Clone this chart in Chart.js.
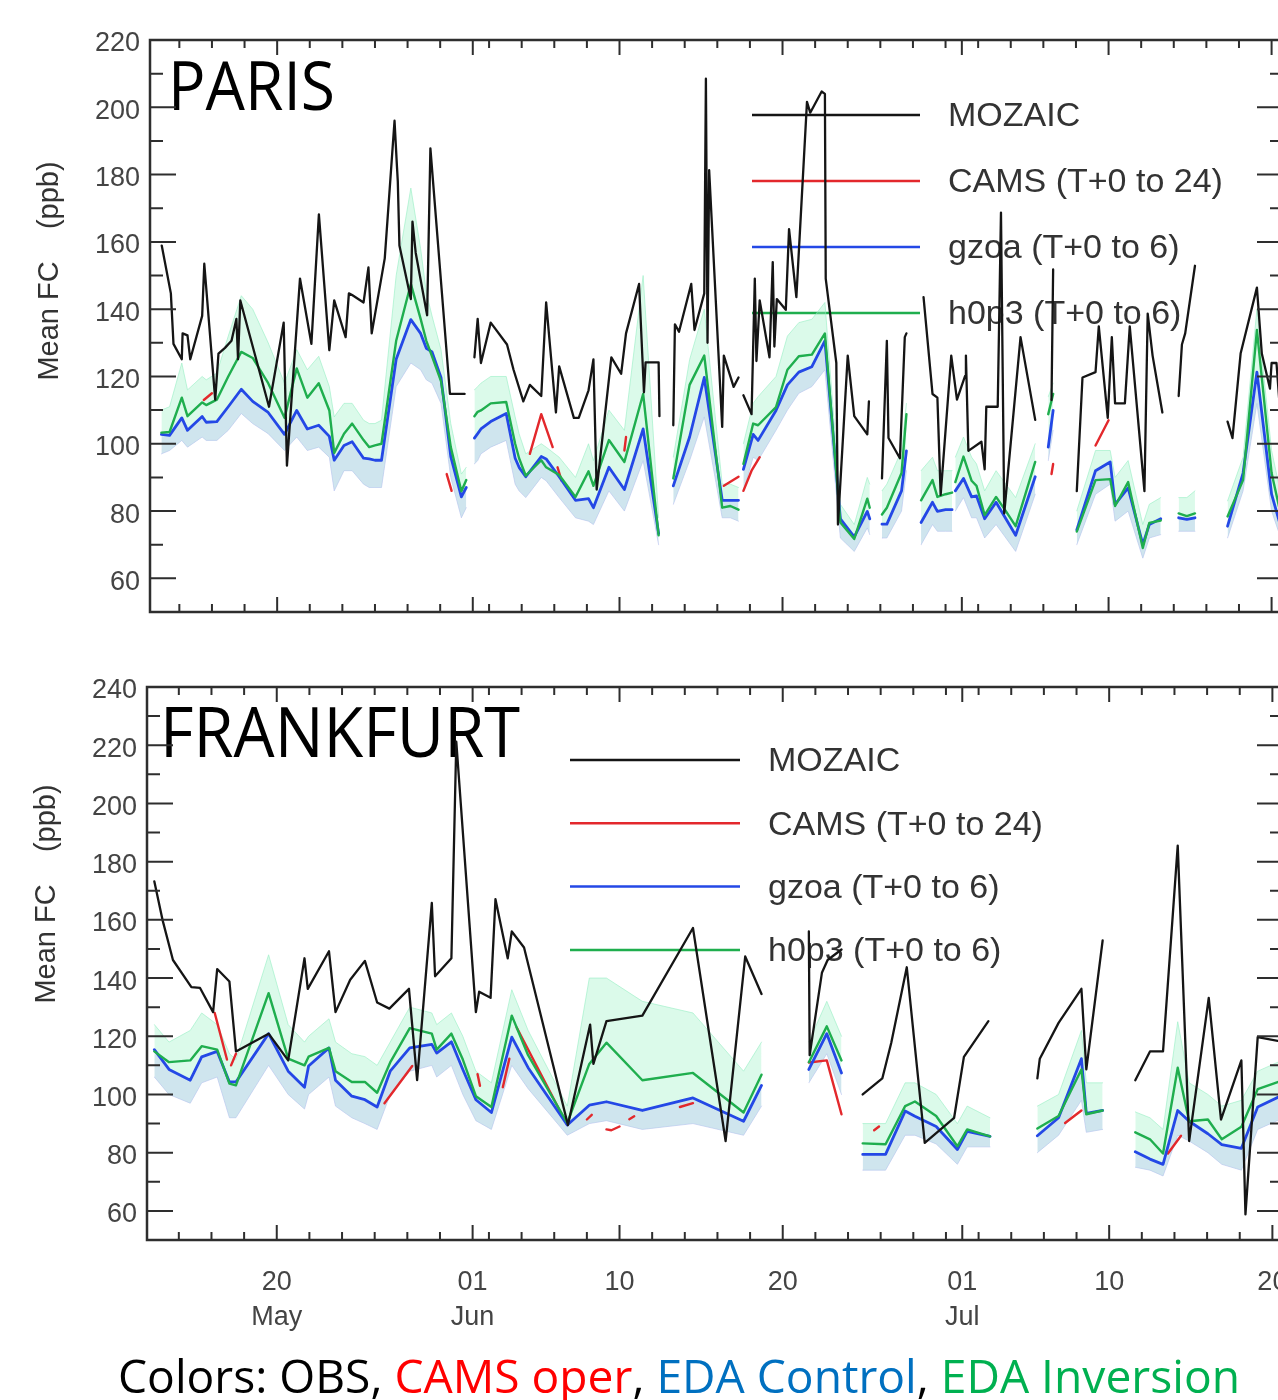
<!DOCTYPE html>
<html>
<head>
<meta charset="utf-8">
<script src="https://cdn.jsdelivr.net/npm/chart.js@4.4.1/dist/chart.umd.min.js"></script>
<style>
    html, body { margin: 0; padding: 0; background: #fff; width: 1278px; height: 1400px; overflow: hidden; }
    canvas { position: absolute; left: 0; }
    #paris { top: 0; }
    #frankfurt { top: 650px; }
    #caption {
        position: absolute; left: 118px; top: 1352px;
        font-family: 'Open Sans', 'Noto Sans', sans-serif; font-size: 46px; line-height: 1;
        white-space: nowrap; transform-origin: 0 0; color: #000;
    }
</style>
</head>
<body>
<canvas id="paris" width="1300" height="640"></canvas>
<canvas id="frankfurt" width="1300" height="700"></canvas>
<div id="caption">Colors: OBS, <span style="color:#ff0000">CAMS oper</span>, <span style="color:#0070c0">EDA Control</span>, <span style="color:#00b050">EDA Inversion</span></div>

<script>
// Day numbers: 1 = 1 May, 32 = 1 Jun, 62 = 1 Jul. null = gap in the record.
const xMajorDays = [20, 32, 41, 51, 62, 71, 81];
const xMajorLabels = [['20', 'May'], ['01', 'Jun'], '10', '20', ['01', 'Jul'], '10', '20'];
const parisYTicks = [60, 80, 100, 120, 140, 160, 180, 200, 220];
const frankYTicks = [60, 80, 100, 120, 140, 160, 180, 200, 220, 240];
const seriesNames = ['MOZAIC', 'CAMS (T+0 to 24)', 'gzoa (T+0 to 6)', 'h0p3 (T+0 to 6)'];
const seriesColors = ['#151515', '#e3282c', '#2448e6', '#1fae4e'];

// ---- PARIS ----
const parisModelDays = [
    12.9, 13.4, 14.15, 14.5, 15.4, 15.65, 16.3, 17.0, 17.8, 18.5, 19.45, 20.45, 21.2, 21.85, 22.55, 23.2, 23.5, 24.1, 24.6, 25.3, 25.65, 26.0, 26.4, 27.3, 28.2, 28.8, 29.15, 29.5, 30.05, 30.65, 31.3, 31.6, 31.8,
    32.1, 32.3, 32.5, 33.1, 34.05, 34.6, 34.84, 35.25, 36.2, 36.5, 37.3, 38.3, 39.1, 39.4, 40.35, 41.3, 42.45, 43.4, 43.8,
    44.3, 45.3, 46.2, 47.3, 47.8, 48.3, 48.45,
    48.6, 49.2, 49.5, 50.6, 51.3, 52.0, 52.8, 53.6, 54.55, 55.4, 56.2, 56.35, 56.7,
    57.1, 57.4, 58.3, 58.6, 59.0,
    59.5, 60.2, 60.5, 61.0, 61.4, 61.5,
    61.6, 62.1, 62.6, 62.9, 63.4, 64.1, 64.7, 65.3, 66.5, 66.9,
    67.3, 67.6, 68.3,
    69.05, 70.2, 71.1, 71.4, 72.2, 73.1, 73.5, 74.2, 74.7,
    75.3, 75.8, 76.3, 77.3,
    78.3, 79.25, 80.1, 81.0, 81.7
];
const parisGzoa = [
    102.8, 102.5, 107.7, 104, 108.1, 106.4, 106.6, 111, 116.2, 112.6, 109.3, 102.8, 109.9, 104.4, 105.5, 102.2, 95.1, 99.5, 100.6, 95.7, 95.5, 95.1, 95.1, 125.1, 136.9, 132.8, 128.4, 127.3, 119.7, 96.2, 84.2, 87, null,
    101.7, 103, 104.4, 106.6, 109, 95.7, 93, 90.2, 96.2, 95.5, 90.2, 83.2, 83.7, 81, 93, 86.4, 104.4, 73.3, null,
    87.5, 102, 119.7, 83.2, 83.2, 83.2, null,
    92.4, 102.8, 101, 109.9, 117.5, 121.3, 122.9, 130.6, 77.7, 72.3, 79.9, 77.7, null,
    76.1, 76.1, 86, 97.9, null,
    76.6, 82.6, 79.9, 80.4, 80.4, null,
    86, 89.7, 84.2, 84.5, 77.7, 82.6, 77.7, 72.8, 90.2, null,
    99, 109.9, null,
    74.4, 92, 94.6, 82, 86.9, 70.1, 76, 77.7, null,
    78, 77.5, 78, null,
    75.5, 91.3, 121.3, 85, 73
];
const parisH0p3 = [
    103.3, 103.5, 113.7, 108.2, 112.3, 111.5, 113.1, 120, 127.3, 125.5, 118, 107.7, 122.4, 113.7, 118, 109.9, 97.3, 103, 106, 101.1, 99, 99.5, 100, 130.6, 147.5, 137.1, 130.6, 126, 118.6, 99, 85.9, 89.2, null,
    108.2, 109.5, 109.9, 112, 112.4, 100, 95.7, 90.5, 95.1, 93, 90.7, 84.2, 91.8, 87.5, 101.1, 94.6, 114.8, 72.8, null,
    89.7, 117.5, 126.2, 81, 81.5, 80.4, null,
    94, 106, 105.5, 110.9, 122, 126, 126.5, 132.8, 76.6, 71.7, 83.7, 81, null,
    79, 81, 91.3, 108.8, null,
    83.2, 89.2, 84.2, 85, 85.5, null,
    88.6, 96.2, 89, 87.5, 78.8, 84.2, 80, 75.5, 94.6, null,
    108.8, 114.8, null,
    73.9, 89.2, 89.5, 81.5, 88.6, 69, 76.5, 77.2, null,
    79.3, 78.5, 79.3, null,
    78.4, 89.2, 133.8, 91.3, 76
];
const parisEnsHi = [
    110, 111, 124, 116, 120, 119, 121, 132, 144, 140, 130, 118, 128, 122, 126, 117, 108, 112, 112, 107, 106, 106, 107, 150, 176, 158, 145, 138, 128, 106, 91, 93, null,
    116, 117, 118, 120, 120, 108, 103, 97, 100, 99, 96, 90, 100, 95, 110, 104, 150, 78, null,
    96, 125, 140, 88, 88, 87, null,
    100, 112, 114, 120, 132, 136, 137, 142, 82, 76, 90, 88, null,
    86, 88, 98, 112, null,
    92, 96, 92, 92, 92, null,
    96, 102, 96, 94, 86, 92, 88, 84, 100, null,
    114, 118, null,
    80, 98, 98, 90, 95, 76, 82, 84, null,
    84, 84, 86, null,
    83, 96, 140, 98, 82
];
const parisEnsLo = [
    97, 98, 101, 99, 102, 101, 101, 104, 109, 106, 103, 98, 102, 98, 99, 96, 86, 92, 92, 88, 87, 87, 87, 117, 124, 122, 119, 118, 112, 90, 78, 81, null,
    94, 95, 97, 99, 101, 88, 86, 84, 90, 89, 84, 78, 77, 76, 86, 80, 95, 70, null,
    82, 95, 108, 78, 78, 77, null,
    86, 96, 95, 104, 110, 115, 117, 122, 72, 68, 75, 73, null,
    72, 72, 80, 92, null,
    70, 76, 74, 74, 74, null,
    80, 84, 78, 78, 72, 76, 72, 68, 85, null,
    95, 104, null,
    70, 85, 88, 77, 80, 66, 72, 73, null,
    74, 74, 74, null,
    72, 86, 112, 80, 70
];
const parisCamsDays = [15.5, 16.0, 16.2, 30.4, 30.7, 30.9, 35.5, 36.2, 36.9, 37.1, 37.2, 37.45, 37.6, 41.3, 41.4, 41.5, 47.4, 48.3, 48.45, 48.6, 49.1, 49.6, 49.8, 67.5, 67.6, 67.8, 70.2, 71.0];
const parisCams = [113, 115, null, 91, 86, null, 97, 108.8, 99, null, 93, 89, null, 98, 102, null, 87.5, 90.2, null, 86, 92, 96, null, 91, 94, null, 99.5, 107];
const parisObsDays = [
    12.92, 13.48, 13.64, 14.15, 14.2, 14.5, 14.67, 15.4, 15.53, 16.2, 16.4, 16.8, 17.2, 17.5, 17.6, 17.74, 19.5, 20.4, 20.6, 21.4, 22.1, 22.56, 23.2, 23.5, 24.2, 24.4, 24.6, 25.3, 25.6, 25.8, 26.6, 27.2, 27.35, 27.4, 27.5, 28.2, 28.3, 28.5, 29.2, 29.4, 30.6, 31.5, 31.8,
    32.1, 32.3, 32.5, 33.1, 34.1, 34.5, 35.1, 35.5, 36.2, 36.5, 37.1, 37.3, 38.2, 38.5, 39.1, 39.4, 39.6, 40.5, 41.1, 41.4, 42.2, 42.5, 42.6, 43.4, 43.45, 43.9,
    44.3, 44.4, 44.65, 45.4, 45.6, 46.2, 46.3, 46.4, 46.5, 47.3, 47.4, 48.0, 48.3, 48.45,
    48.6, 49.1, 49.3, 49.4, 49.6, 50.2, 50.4, 50.5, 50.65, 51.2, 51.4, 51.85, 52.5, 52.7, 53.4, 53.6, 53.65, 54.3, 54.4, 55.0, 55.4, 56.2, 56.3, 56.7,
    57.1, 57.4, 57.5, 58.2, 58.5, 58.6, 59.1,
    59.65, 60.2, 60.5, 60.7, 61.35, 61.7, 62.2, 62.25, 62.4, 63.2, 63.4, 63.5, 64.2, 64.4, 64.6, 65.6, 66.5, 67.0,
    67.5, 67.6, 68.3,
    69.05, 69.4, 70.2, 70.4, 70.95, 71.2, 71.4, 72.0, 72.3, 73.2, 73.4, 73.7, 74.3, 74.8,
    75.3, 75.5, 75.7, 76.3, 77.3,
    78.3, 78.6, 79.1, 80.1, 80.4, 80.9, 81.0, 81.3, 81.5, 81.7
];
const parisObs = [
    158.9, 144.7, 129.7, 125.1, 132.8, 132.2, 125.1, 138, 153.5, 113.1, 126.8, 128.5, 130.6, 137.1, 125.1, 142.6, 111, 136, 93.5, 149.1, 129.7, 168.2, 127.8, 142.6, 131.7, 144.7, 144.2, 142, 152.4, 132.8, 155.1, 196, 182.3, 178, 158.9, 143, 166, 156.7, 138.2, 187.8, 114.8, 114.8, null,
    125.7, 137.1, 124, 136, 129.5, 122, 112.6, 117.5, 114.2, 142, 109.3, 123, 107.7, 107.7, 115.9, 125.1, 86.4, 125.7, 120.8, 132.8, 147.5, 115.3, 124.2, 124.2, 108.2, null,
    105.5, 135.5, 133.3, 147.5, 133.8, 144.7, 208.5, 130, 181.3, 105, 126.2, 116.9, 119.7, null,
    114.4, 108.8, 149.1, 124.6, 142.6, 125.7, 154, 128.9, 143, 139.8, 163.8, 143.6, 201.6, 198.4, 204.7, 204, 149.1, 124, 76, 126.2, 108.2, 102.8, 112.6, null,
    89.7, 130.6, 101.7, 95.7, 131.7, 132.8, null,
    143.6, 114.8, 113.7, 84.8, 126.2, 113.1, 120.2, 126.2, 97.9, 100.6, 92.4, 111, 111, 168.7, 79.3, 131.7, 107.1, null,
    113, 151.8, null,
    85.9, 119.7, 121.3, 134.9, 107.7, 131.7, 112, 112, 134.9, 85.9, 138.7, 126.2, 109.3, null,
    114.2, 129.5, 132.8, 152.9, null,
    106.6, 101.7, 126.8, 146.4, 126.8, 116.4, 124, 124, 111, 108
];

// ---- FRANKFURT ----
const frankModelDays = [
    12.5, 13.4, 14.7, 15.4, 16.35, 17.1, 17.5, 19.5, 20.7, 21.7, 21.95, 23.2, 23.6, 24.6, 25.4, 26.15, 26.95, 28.15, 29.5, 29.8, 30.7, 31.4, 32.2, 33.15, 34.4, 35.4, 37.8, 39.15, 40.2, 42.4, 45.5, 48.6, 49.7, 51.0,
    52.6, 53.7, 54.6, 55.2,
    55.9, 57.3, 58.5, 59.1, 60.4, 61.7, 62.3, 63.7, 65.0,
    66.6, 67.9, 69.3, 69.6, 70.6, 71.5,
    72.6, 73.5, 74.3, 75.2, 75.9, 77.05, 77.9, 79.1, 80.1, 81.7
];
const frankGzoa = [
    115.4, 108.6, 104.9, 112.9, 114.8, 104.3, 104.3, 120.9, 108, 102.5, 109.8, 116, 104.9, 99.4, 98.2, 95.7, 108, 116, 117.2, 114.2, 118.1, 108.6, 98.2, 93.8, 119.7, 109.2, 89.5, 96.3, 97.5, 94.5, 98.8, 90.8, 103.1, null,
    108.6, 120.9, 107.4, null,
    79.4, 79.4, 94.3, 92.5, 89, 81.1, 87.3, 85.6, null,
    85.8, 92, 112.3, 93.5, 94.5, null,
    80.3, 77.8, 76, 94.5, 90.8, 86.5, 82.8, 81.5, 95.7, 100
];
const frankH0p3 = [
    114.8, 111.1, 111.7, 116.6, 115.4, 103.7, 103.1, 134.8, 112.3, 110, 113, 116, 108, 104.3, 104.3, 100.6, 111, 122.8, 120.9, 115.4, 120.9, 112, 99.4, 95.7, 127.1, 113.5, 90.2, 110.5, 117.8, 104.9, 107.4, 93.8, 106.8, null,
    111.1, 123.4, 111.7, null,
    83.2, 82.9, 96, 97.6, 92.6, 82.2, 88, 85.6, null,
    88.3, 92.6, 108.6, 93.2, 94.5, null,
    87, 84.6, 79.7, 109.2, 90.8, 91.4, 84.6, 88.9, 101.8, 105
];
const frankEnsHi = [
    124, 118, 122, 128, 124, 114, 112, 148, 124, 118, 120, 126, 118, 114, 113, 110, 118, 130, 128, 124, 128, 120, 108, 104, 136, 122, 96, 140, 140, 132, 128, 108, 118, null,
    118, 132, 120, null,
    90, 90, 104, 104, 100, 90, 96, 92, null,
    96, 100, 122, 104, 104, null,
    94, 92, 88, 125, 104, 100, 96, 98, 108, 112
];
const frankEnsLo = [
    106, 100, 97, 104, 106, 92, 92, 110, 100, 95, 100, 106, 96, 92, 90, 88, 100, 108, 110, 106, 110, 100, 91, 88, 110, 102, 86, 90, 91, 88, 90, 86, 96, null,
    104, 114, 100, null,
    74, 74, 86, 86, 83, 76, 82, 82, null,
    80, 86, 98, 87, 88, null,
    75, 74, 72, 86, 84, 80, 76, 74, 88, 92
];
const frankCamsDays = [16.2, 16.95, 17.05, 17.2, 17.5, 17.7, 26.6, 28.3, 28.5, 32.3, 32.45, 32.6, 33.85, 34.25, 34.5, 34.7, 37.8, 38.5, 39.0, 39.3, 39.6, 40.2, 40.5, 41.0, 41.3, 41.6, 41.9, 42.5, 44.7, 45.5, 47.0, 52.6, 53.7, 54.6, 55.5, 56.6, 56.9, 60.0, 68.3, 69.3, 70.0, 74.6, 75.4];
const frankCams = [128, 112, null, 110, 114, null, 97, 109.8, null, 107, 103, null, 102.5, 112.3, null, 123, 89.5, null, 91.4, 93, null, 88, 87.7, 89, null, 91.5, 92.5, null, 95.7, 97, null, 111, 111.7, 93.2, null, 87.7, 89, null, 90.2, 94.5, null, 79.7, 85.8];
const frankObsDays = [
    12.5, 13.0, 13.64, 14.77, 15.3, 16.1, 16.35, 17.1, 17.5, 19.5, 20.7, 21.7, 21.9, 23.2, 23.6, 24.5, 25.4, 26.15, 26.9, 28.1, 28.6, 29.5, 29.7, 30.7, 31.0, 32.2, 32.4, 33.1, 33.4, 34.15, 34.4, 35.15, 37.84, 39.2, 39.4, 40.2, 42.4, 45.5, 47.5, 48.7, 49.7, 51.0,
    52.6, 52.65, 53.4, 53.75, 54.6, 55.2,
    55.9, 57.1, 57.65, 58.6, 59.7, 61.5, 62.1, 63.6, 65.0,
    66.6, 66.75, 67.9, 69.3, 69.6, 70.6, 71.5,
    72.6, 73.5, 74.3, 75.2, 75.9, 77.1, 77.85, 79.1, 79.35, 80.1, 81.7
];
const frankObs = [
    173.2, 160, 146.2, 136.9, 136.6, 128.3, 143.1, 138.8, 114.8, 120.9, 111.7, 146.8, 136.3, 149.2, 128.3, 139.4, 145.9, 131.6, 129.5, 136.3, 104.9, 165.8, 140.6, 146.8, 221.2, 128.3, 135.3, 133.2, 167.1, 146.8, 156, 150.5, 89.5, 124, 110.5, 125.2, 127.1, 157.2, 84, 147.4, 134.5, null,
    156, 113.5, 141.8, 146.2, 149.8, null,
    100, 105.5, 117.8, 143.7, 83.4, 92, 112.9, 125.2, null,
    105.5, 112.3, 124.6, 136.3, 108.6, 152.9, null,
    104.9, 114.8, 114.8, 185.5, 84, 133.2, 91.4, 111.7, 58.8, 119.7, 118
];

const axisFont = { family: "'Liberation Sans', Arial, sans-serif", size: 27 };
const axisColor = '#444';

function series(days, values) {
    return days.map((d, i) => ({ x: d, y: values[i] }));
}

function dayOfMonth(d) {
    if (d <= 31) return d;
    if (d <= 61) return d - 31;
    return d - 61;
}

// IDL-style frame: box, inward ticks on all four sides, city name, legend, y title
const framePlugin = {
    id: 'frame',
    beforeDatasetsDraw(chart, args, opts) {
        const ctx = chart.ctx;
        const city = opts.city;
        ctx.save();
        ctx.font = `${city.size}px 'Open Sans', 'Noto Sans', sans-serif`;
        ctx.fillStyle = '#000';
        ctx.textBaseline = 'alphabetic';
        const w = ctx.measureText(city.text).width;
        ctx.translate(city.x, city.y);
        ctx.scale(city.width / w, 1);
        ctx.fillText(city.text, 0, 0);
        ctx.restore();

        const lg = opts.legend;
        ctx.save();
        ctx.font = "34px 'Liberation Sans', Arial, sans-serif";
        ctx.textBaseline = 'middle';
        seriesNames.forEach((name, i) => {
            const y = lg.y + i * lg.step;
            ctx.strokeStyle = seriesColors[i];
            ctx.lineWidth = 2.5;
            ctx.beginPath();
            ctx.moveTo(lg.x, y);
            ctx.lineTo(lg.x + lg.len, y);
            ctx.stroke();
            ctx.fillStyle = '#333';
            ctx.fillText(name, lg.textX, y + 2);
        });
        ctx.restore();
    },
    afterDraw(chart, args, opts) {
        const ctx = chart.ctx;
        const { left, right, top, bottom } = chart.chartArea;
        const xs = chart.scales.x;
        const ys = chart.scales.y;
        ctx.save();
        ctx.strokeStyle = '#2e2e2e';
        ctx.lineWidth = 2.5;
        ctx.strokeRect(left, top, right - left, bottom - top);

        ctx.lineWidth = 2;
        ctx.beginPath();
        for (let v = opts.yTicks[0]; v < ys.max; v += 10) {
            const py = ys.getPixelForValue(v);
            const len = v % 20 === 0 ? 26 : 13;
            ctx.moveTo(left, py); ctx.lineTo(left + len, py);
            ctx.moveTo(right, py); ctx.lineTo(right - len, py);
        }
        for (let d = Math.ceil(xs.min); d <= xs.max; d++) {
            const major = xMajorDays.includes(d);
            if (!major && dayOfMonth(d) % 2 !== 0) continue;
            const px = xs.getPixelForValue(d);
            const len = major ? 15 : 8;
            ctx.moveTo(px, bottom); ctx.lineTo(px, bottom - len);
            ctx.moveTo(px, top); ctx.lineTo(px, top + len);
        }
        ctx.stroke();

        const t = opts.yTitle;
        ctx.translate(t.x, t.y);
        ctx.rotate(-Math.PI / 2);
        ctx.font = "29px 'Liberation Sans', Arial, sans-serif";
        ctx.fillStyle = '#333';
        ctx.textAlign = 'center';
        ctx.textBaseline = 'middle';
        ctx.fillText('Mean FC    (ppb)', 0, 0);
        ctx.restore();
    }
};

function buildChart(id, d, o) {
    return new Chart(document.getElementById(id), {
        type: 'line',
        data: {
            datasets: [
                { label: seriesNames[0], data: series(d.obsDays, d.obs), borderColor: seriesColors[0], borderWidth: 2.3, order: 0 },
                { label: seriesNames[1], data: series(d.camsDays, d.cams), borderColor: seriesColors[1], borderWidth: 2.4, order: 3 },
                { label: seriesNames[2], data: series(d.modelDays, d.gzoa), borderColor: seriesColors[2], borderWidth: 2.8, order: 2 },
                { label: seriesNames[3], data: series(d.modelDays, d.h0p3), borderColor: seriesColors[3], borderWidth: 2.4, order: 1 },
                { label: 'EDA min', data: series(d.modelDays, d.lo), borderColor: 'rgba(175,180,240,0.55)', borderWidth: 1, order: 7 },
                { label: 'EDA max', data: series(d.modelDays, d.hi), borderColor: 'rgba(150,238,195,0.6)', borderWidth: 1,
                  fill: 4, backgroundColor: 'rgba(160,242,200,0.38)', order: 6 },
                { label: 'EDA control spread', data: series(d.modelDays, d.gzoa), borderColor: 'transparent', borderWidth: 0,
                  fill: 4, backgroundColor: 'rgba(185,188,245,0.35)', order: 5 }
            ]
        },
        options: {
            responsive: false,
            animation: false,
            events: [],
            layout: { padding: o.padding },
            elements: {
                point: { radius: 0 },
                line: { tension: 0, borderJoinStyle: 'round', borderCapStyle: 'round' }
            },
            plugins: {
                legend: { display: false },
                tooltip: { enabled: false },
                frame: { city: o.city, legend: o.legend, yTitle: o.yTitle, yTicks: o.yTicks }
            },
            scales: {
                x: {
                    type: 'linear',
                    min: o.xMin,
                    max: o.xMax,
                    grid: { display: false, drawTicks: false },
                    border: { display: false },
                    afterBuildTicks: (s) => { s.ticks = xMajorDays.map(v => ({ value: v })); },
                    afterFit: (s) => { s.height = o.xHeight; s.paddingLeft = 0; s.paddingRight = 0; },
                    ticks: {
                        display: o.xLabels,
                        autoSkip: false,
                        maxRotation: 0,
                        padding: 25,
                        color: axisColor,
                        font: { ...axisFont, lineHeight: 1.3 },
                        callback: (v, i) => xMajorLabels[i]
                    }
                },
                y: {
                    type: 'linear',
                    min: 50,
                    max: o.yMax,
                    grid: { display: false, drawTicks: false },
                    border: { display: false },
                    afterBuildTicks: (s) => { s.ticks = o.yTicks.map(v => ({ value: v })); },
                    afterFit: (s) => { s.width = o.yWidth; s.paddingTop = 0; s.paddingBottom = 0; },
                    ticks: { padding: 10, labelOffset: 4, color: axisColor, font: axisFont }
                }
            }
        },
        plugins: [framePlugin]
    });
}

buildChart('paris', {
    modelDays: parisModelDays, gzoa: parisGzoa, h0p3: parisH0p3, hi: parisEnsHi, lo: parisEnsLo,
    camsDays: parisCamsDays, cams: parisCams, obsDays: parisObsDays, obs: parisObs
}, {
    padding: { top: 40, right: 17, left: 0, bottom: 0 },
    xMin: 12.2, xMax: 81.7, xHeight: 28, xLabels: false,
    yMax: 220, yTicks: parisYTicks, yWidth: 150,
    city: { text: 'PARIS', x: 168, y: 110, size: 67, width: 167 },
    legend: { x: 752, len: 168, y: 115, step: 66, textX: 948 },
    yTitle: { x: 50, y: 271 }
});

buildChart('frankfurt', {
    modelDays: frankModelDays, gzoa: frankGzoa, h0p3: frankH0p3, hi: frankEnsHi, lo: frankEnsLo,
    camsDays: frankCamsDays, cams: frankCams, obsDays: frankObsDays, obs: frankObs
}, {
    padding: { top: 37, right: 17, left: 0, bottom: 0 },
    xMin: 12.05, xMax: 81.65, xHeight: 110, xLabels: true,
    yMax: 240, yTicks: frankYTicks, yWidth: 147,
    city: { text: 'FRANKFURT', x: 160, y: 107, size: 70, width: 360 },
    legend: { x: 570, len: 170, y: 110, step: 63.3, textX: 768 },
    yTitle: { x: 47, y: 244 }
});

// stretch the caption to the width it has in the original slide
const caption = document.getElementById('caption');
caption.style.transform = `scaleX(${1122 / caption.getBoundingClientRect().width})`;
</script>
</body>
</html>
